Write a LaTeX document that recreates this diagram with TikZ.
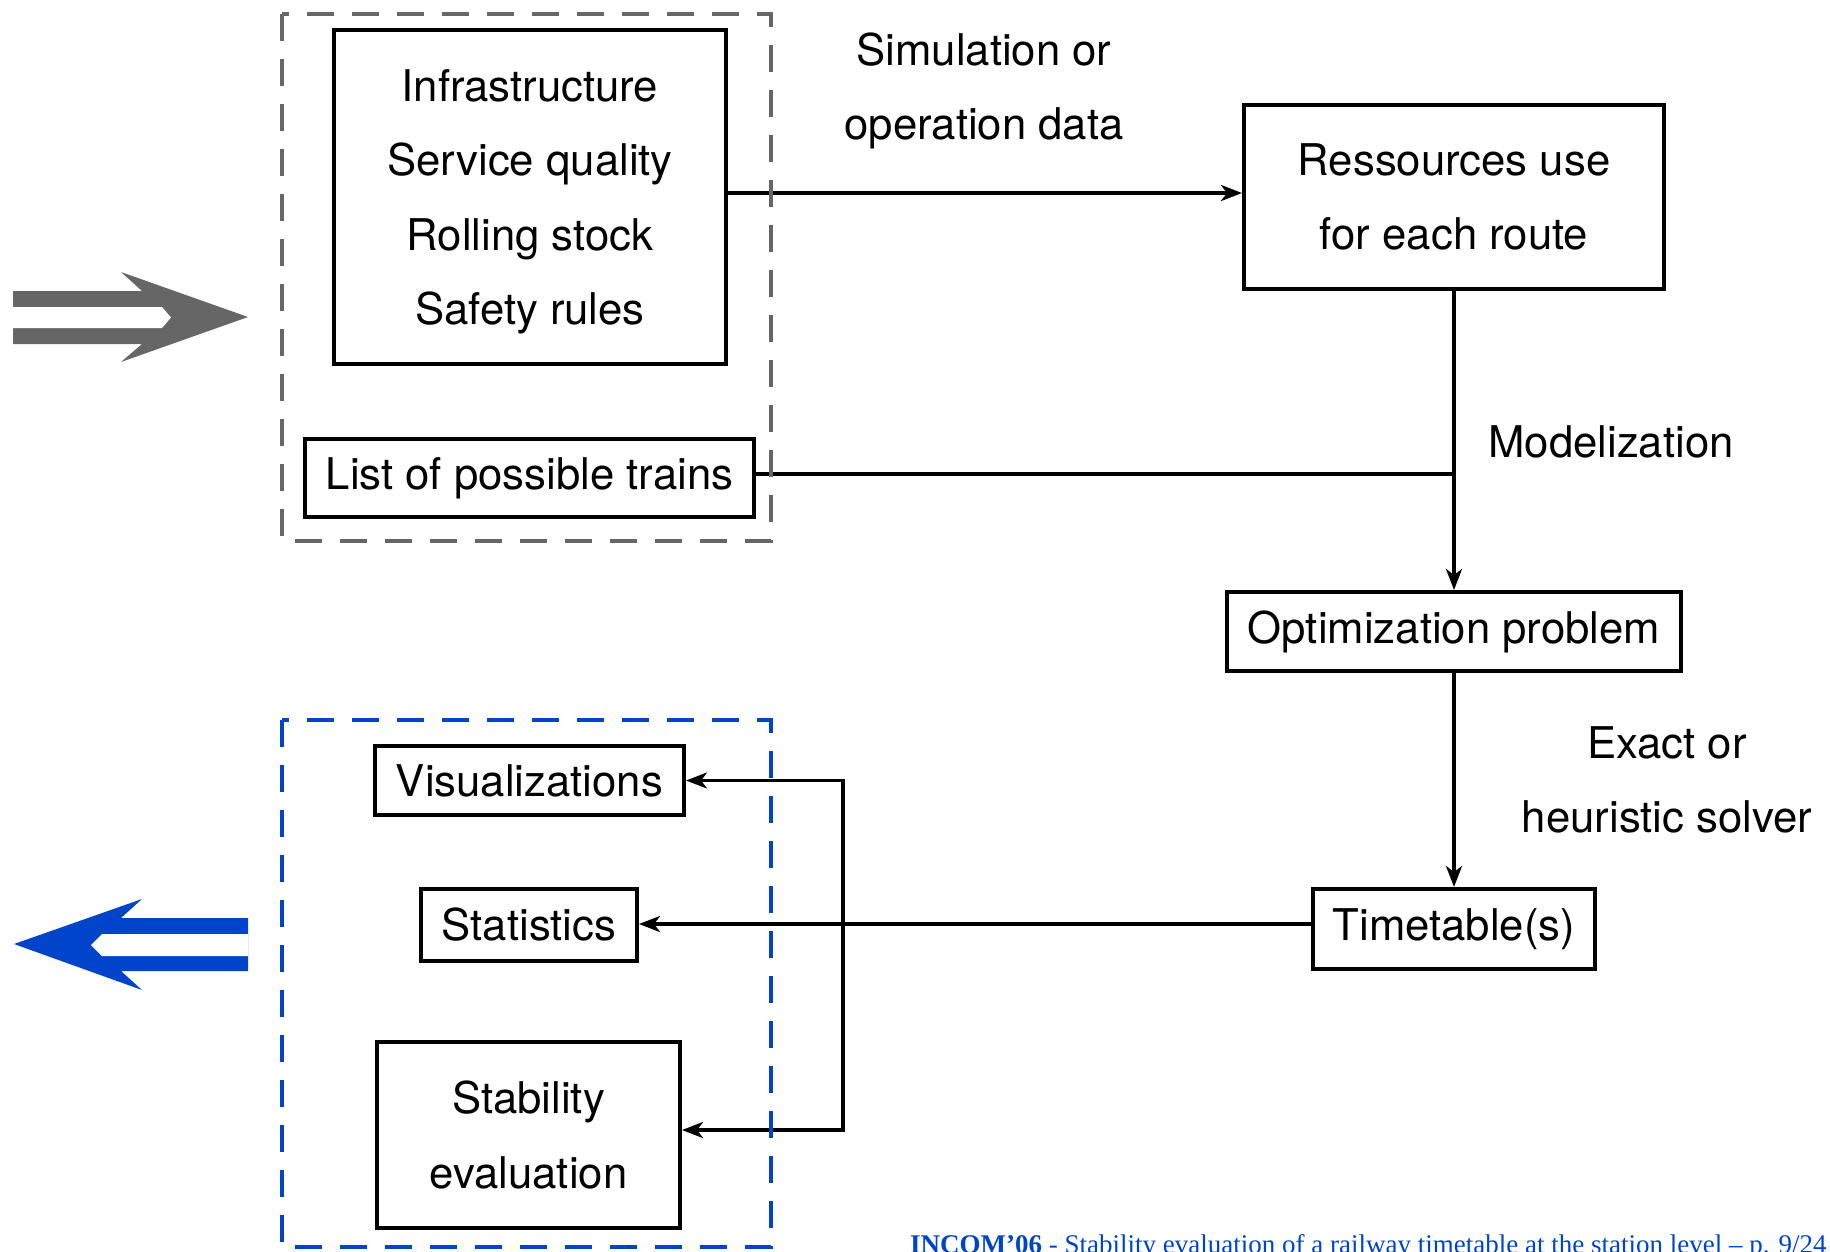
\documentclass[tikz,border=0pt]{standalone}
\usepackage{fontspec}
\setmainfont{TeX Gyre Heros}
\newfontfamily\footfont{Liberation Serif}
\usetikzlibrary{arrows.meta}
\definecolor{frameblue}{RGB}{0,68,204}
\definecolor{framegray}{RGB}{102,102,102}

\begin{document}
\begin{tikzpicture}[x=1pt,y=-1pt,
  box/.style={draw, line width=4pt, inner sep=0pt, align=center,
              font=\fontsize{43.7}{74.5}\selectfont},
  lbl/.style={inner sep=0pt, align=center, font=\fontsize{43.7}{74.5}\selectfont},
  link/.style={line width=3.5pt},
  flow/.style={link, -{Stealth[length=21pt,width=16pt,inset=6pt]}},
  group/.style={line width=3.3pt, dash pattern=on 27pt off 18pt},
]
\useasboundingbox (0,0) rectangle (1830,1251);

% input data
\node[box, minimum width=392pt, minimum height=334pt] (inbox) at (530,197)
  {\rule{0pt}{42pt}Infrastructure\\Service quality\\Rolling stock\\Safety rules};
\node[box, minimum width=449pt, minimum height=78pt] (list) at (529.5,478)
  {List of possible trains};

% processing chain
\node[box, minimum width=420pt, minimum height=184pt] (res) at (1454,197)
  {Ressources use\\for each route};
\node[box, minimum width=454pt, minimum height=79pt] (opt) at (1454,631.5)
  {Optimization problem};
\node[box, minimum width=282pt, minimum height=80pt] (tt) at (1454,929)
  {Timetable(s)};

% outputs
\node[box, minimum width=309pt, minimum height=69pt] (vis) at (529.5,780.5)
  {Visualizations};
\node[box, minimum width=216pt, minimum height=72pt] (stat) at (529,925)
  {Statistics};
\node[box, minimum width=303pt, minimum height=186pt] (stab) at (528.5,1135)
  {Stability\\evaluation};

% step labels
\node[lbl] (simlbl) at (984,91) {Simulation or\\operation data};
\node[lbl] (modlbl) at (1611,442) {Modelization};
\node[lbl] (sollbl) at (1667,780) {Exact or\\heuristic solver};

% connectors
\draw[flow] ([yshift=4pt]inbox.east) -- ([yshift=4pt]inbox.east -| res.west);
\draw[link] ([yshift=4pt]list.east) -- ([yshift=4pt]list.east -| res.south);
\draw[flow] (res.south) -- (opt.north);
\draw[flow] (opt.south) -- (tt.north);
\draw[flow] ([yshift=5pt]tt.west) -- ([yshift=5pt]tt.west -| stat.east);
\coordinate (split) at (843,924);
\draw[flow] (split) |- (vis.east);
\draw[flow] (split) |- ([yshift=5pt]stab.east);

% grouping frames
\draw[group, framegray] (282,14) rectangle (771,541);
\draw[group, frameblue] (282,720) rectangle (771,1247);

% in / out arrows
\fill[framegray] (13,291) -- (142,291) -- (121,272) -- (248,317) -- (121,362)
  -- (142,344) -- (13,344) -- cycle;
\fill[white] (13,307) -- (162,307) -- (171,317.5) -- (162,328) -- (13,328) -- cycle;
\fill[frameblue] (248,918) -- (121,918) -- (142,899) -- (14,944) -- (142,990)
  -- (121,971) -- (248,971) -- cycle;
\fill[white] (248,934) -- (102,934) -- (91,945) -- (102,956) -- (248,956) -- cycle;

% footline
\node[anchor=base west, inner sep=0pt, text=frameblue,
      font={\footfont\fontsize{27}{30}\selectfont}] (footer) at (910,1253)
  {\textbf{INCOM’06} - Stability evaluation of a railway timetable at the station level – p. 9/24};
\end{tikzpicture}
\end{document}
